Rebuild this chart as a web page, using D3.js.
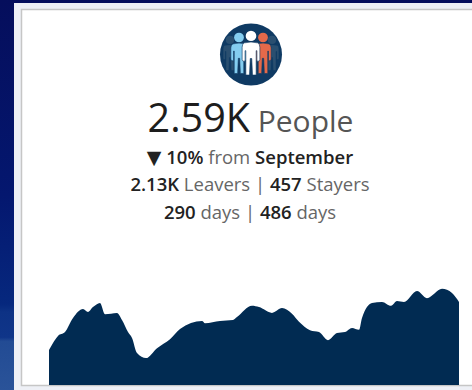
<!DOCTYPE html>
<html>
<head>
<meta charset="utf-8">
<script src="https://cdn.jsdelivr.net/npm/d3@7"></script>
<style>
html,body{margin:0;padding:0;background:#fff;overflow:hidden}
svg{display:block}
text{font-family:"Open Sans",sans-serif;text-anchor:middle}
</style>
</head>
<body>
<svg id="chart" width="472" height="390"></svg>
<script>
// Headcount trend: day offsets and people counts
const dayOffsets = [0,4,9,16,24,34,39,44,51,56,68,73,79,83,88,97,108,121,131,153,156,171,184,188,203,210,223,233,243,250,261,270,279,288,296,303,310,313,323,333,342,348,355,368,378,393,403,410];
const peopleCounts = [1090,1310,1530,1650,2090,2370,2280,2430,2560,2210,2250,2030,1650,1470,1000,840,1150,1430,1750,2000,1930,2000,2030,2120,2470,2430,2250,2400,2220,1970,1710,1650,1400,1620,1650,1780,1720,2090,2560,2590,2470,2620,2590,2930,2710,3000,2870,2590];

// Headline and caption content
const headlineValue = "2.59K";
const headlineUnit = "People";
const changeArrow = "▼";
const changeParts = [[" 10%", true], [" from ", false], ["September", true]];
const groupParts = [["2.13K", true], [" Leavers | ", false], ["457", true], [" Stayers", false]];
const tenureParts = [["290", true], [" days | ", false], ["486", true], [" days", false]];

const navy = "#012b52";
const svg = d3.select("#chart");
const defs = svg.append("defs");

// Page backdrop behind the card
const bg = defs.append("linearGradient").attr("id","backdrop").attr("x1",0).attr("x2",0).attr("y1",0).attr("y2",1);
[[0,"#050e5c"],[0.5,"#04176f"],[0.78,"#06287e"],[0.8,"#0d3285"],[0.865,"#0f3589"],[0.875,"#224b94"],[1,"#2a5399"]]
  .forEach(([o,c]) => bg.append("stop").attr("offset",o).attr("stop-color",c));

svg.append("rect").attr("width",472).attr("height",390).attr("fill","url(#backdrop)");
svg.append("rect").attr("x",14).attr("y",3).attr("width",458).attr("height",387).attr("fill","#eef0f6");
svg.append("rect").attr("x",21.5).attr("y",9.5).attr("width",452).attr("height",376).attr("fill","#fff").attr("stroke","#c6c6c6").attr("stroke-width",1.5);

// Area sparkline
const x = d3.scaleLinear().domain([0,410]).range([49,459]);
const y = d3.scaleLinear().domain([0,3120]).range([385,285]);
const area = d3.area().x((d,i) => x(dayOffsets[i])).y0(y(0)).y1(d => y(d)).curve(d3.curveMonotoneX);
svg.append("path").datum(peopleCounts).attr("d",area).attr("fill",navy);

// Round badge with a group of figures
const badge = svg.append("g").attr("transform","translate(251,54.5)");
badge.append("circle").attr("r",31).attr("fill","#0f3a63");
function figure(g, cx, dy, scale, fill){
  const f = g.append("g").attr("transform",`translate(${cx},${dy}) scale(${scale * 0.85},${scale})`)
    .attr("fill",fill).attr("stroke","#0f3a63").attr("stroke-width",0.8);
  f.append("circle").attr("cx",0).attr("cy",-20).attr("r",6).attr("transform","scale(1.2,1)").attr("stroke","none");
  f.append("path").attr("d","M-9,-12 Q0,-14 9,-12 Q12,-11 12,-7 L12,7 Q12,9 10,9 L8,9 L8,-3 L7,-3 L7,25 L2,25 L1,6 L-1,6 L-2,25 L-7,25 L-7,-3 L-8,-3 L-8,9 L-10,9 Q-12,9 -12,7 L-12,-7 Q-12,-11 -9,-12 Z");
}
figure(badge,-21,-1,0.68,"#2a4f70");
figure(badge,21,-1,0.68,"#2a4f70");
figure(badge,-12,-1,0.8,"#84cdf0");
figure(badge,12,-1,0.8,"#e4694a");
figure(badge,0,-1.2,0.87,"#ffffff");

// Centered text rows
const head = svg.append("text").attr("x",250.5).attr("y",132);
head.append("tspan").attr("font-size",39.5).attr("fill","#1d1d1d").text(headlineValue);
head.append("tspan").attr("font-size",30).attr("fill","#555").text(" " + headlineUnit);

function row(parts, yPos, lead){
  const t = svg.append("text").attr("x",250).attr("y",yPos).attr("font-size",18.5).attr("xml:space","preserve");
  if (lead) t.append("tspan").attr("font-family","DejaVu Sans").attr("font-size",19).attr("fill","#222").text(lead);
  parts.forEach(([s,strong]) => t.append("tspan")
    .attr("fill", strong ? "#222" : "#666")
    .attr("font-weight", strong ? 600 : 400)
    .text(s));
}
row(changeParts,164,changeArrow);
row(groupParts,191);
row(tenureParts,218.5);
</script>
</body>
</html>
